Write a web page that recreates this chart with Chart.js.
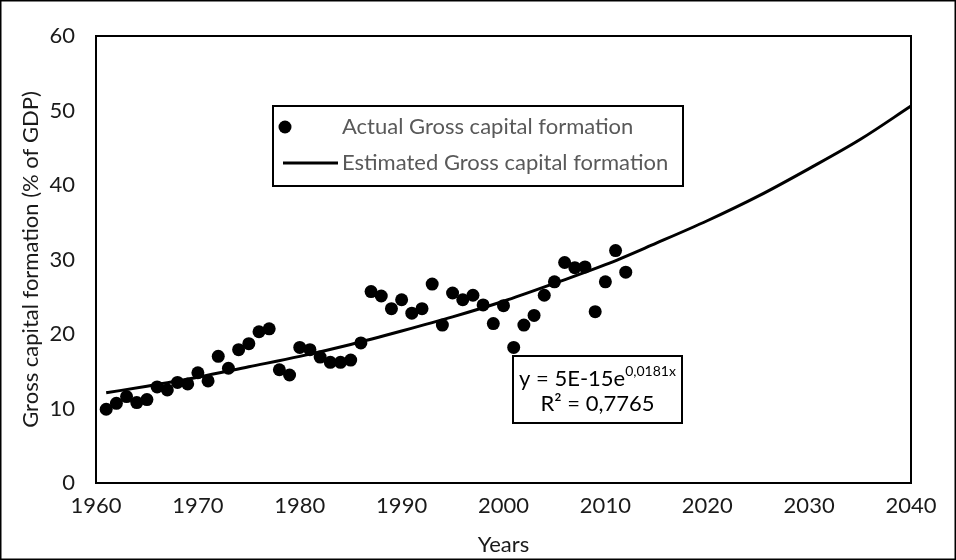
<!DOCTYPE html>
<html>
<head>
<meta charset="utf-8">
<script src="https://cdn.jsdelivr.net/npm/chart.js@4.4.1/dist/chart.umd.min.js"></script>
<style>
html, body { margin: 0; padding: 0; background: #fff; }
#wrap { width: 956px; height: 560px; position: relative; }
</style>
</head>
<body>
<div id="wrap"><canvas id="grafico"></canvas></div>
<script>
var years = [1961,1962,1963,1964,1965,1966,1967,1968,1969,1970,
    1971,1972,1973,1974,1975,1976,1977,1978,1979,1980,
    1981,1982,1983,1984,1985,1986,1987,1988,1989,1990,
    1991,1992,1993,1994,1995,1996,1997,1998,1999,2000,
    2001,2002,2003,2004,2005,2006,2007,2008,2009,2010,
    2011,2012];
var actual = [9.9,10.7,11.6,10.8,11.2,12.9,12.5,13.5,13.3,14.8,
    13.7,17.0,15.4,17.9,18.7,20.3,20.7,15.2,14.5,18.2,
    17.9,16.9,16.2,16.2,16.5,18.8,25.7,25.1,23.4,24.6,
    22.8,23.4,26.7,21.2,25.5,24.6,25.2,23.9,21.4,23.8,
    18.2,21.2,22.5,25.2,27.0,29.6,28.9,29.0,23.0,27.0,
    31.2,28.3];
var trendYears = [1961,1965,1970,1975,1980,1985,1990,1995,2000,2005,2010,2015,2020,2025,2030,2035,2040];
var estimated = [12.1,13.0,14.2,15.6,17.0,18.6,20.4,22.3,24.4,26.8,29.3,32.2,35.2,38.5,42.2,46.1,50.6];
var xTicks = [1960,1970,1980,1990,2000,2010,2020,2030,2040];
var yTicks = [0,10,20,30,40,50,60];
var seriesNames = ["Actual Gross capital formation", "Estimated Gross capital formation"];
var equation = ["y = 5E-15e", "0,0181x", "R\u00b2 = 0,7765"];

var fuente = "Lato, 'Open Sans', sans-serif";

function puntos(xs, ys) {
    var out = [];
    for (var i = 0; i < xs.length; i++) out.push({x: xs[i], y: ys[i]});
    return out;
}

// plot box, legend box, equation box, outer frame
var cajas = {
    id: 'cajas',
    beforeDatasetsDraw: function (chart) {
        var ctx = chart.ctx, a = chart.chartArea;
        ctx.save();
        ctx.strokeStyle = '#000';
        ctx.lineWidth = 2;
        ctx.strokeRect(a.left, a.top, a.right - a.left, a.bottom - a.top);
        ctx.restore();
    },
    afterDraw: function (chart) {
        var ctx = chart.ctx;
        ctx.save();
        ctx.strokeStyle = '#000';
        ctx.lineWidth = 1.5;
        ctx.strokeRect(0.75, 0.75, 954.5, 558.5);

        // legend
        ctx.fillStyle = '#fff';
        ctx.fillRect(273, 106, 410, 80);
        ctx.lineWidth = 2;
        ctx.strokeRect(273, 106, 410, 80);
        ctx.fillStyle = '#000';
        ctx.beginPath();
        ctx.arc(285, 127, 6.5, 0, Math.PI * 2);
        ctx.fill();
        ctx.lineWidth = 3;
        ctx.beginPath();
        ctx.moveTo(283, 163);
        ctx.lineTo(338, 163);
        ctx.stroke();
        ctx.font = '22px ' + fuente;
        ctx.fillStyle = '#595959';
        ctx.textBaseline = 'middle';
        ctx.textAlign = 'left';
        ctx.fillText(seriesNames[0], 342, 127);
        ctx.fillText(seriesNames[1], 342, 163);

        // equation
        ctx.fillStyle = '#fff';
        ctx.fillRect(513, 356, 169, 67);
        ctx.lineWidth = 2;
        ctx.strokeRect(513, 356, 169, 67);
        ctx.fillStyle = '#000';
        ctx.font = '22px ' + fuente;
        var w1 = ctx.measureText(equation[0]).width;
        ctx.font = '14px ' + fuente;
        var w2 = ctx.measureText(equation[1]).width;
        var x0 = 597.5 - (w1 + w2) / 2;
        ctx.font = '22px ' + fuente;
        ctx.fillText(equation[0], x0, 379);
        ctx.font = '14px ' + fuente;
        ctx.fillText(equation[1], x0 + w1, 371);
        ctx.font = '22px ' + fuente;
        ctx.textAlign = 'center';
        ctx.fillText(equation[2], 597.5, 404);
        ctx.restore();
    }
};

function dibujar() {
    Chart.defaults.font.family = fuente;
    Chart.defaults.font.size = 22;
    Chart.defaults.color = '#1a1a1a';

    var grafico = new Chart(document.getElementById('grafico'), {
        type: 'scatter',
        data: {
            datasets: [
                {
                    label: seriesNames[0],
                    data: puntos(years, actual),
                    pointRadius: 6.5,
                    pointHoverRadius: 6.5,
                    pointBackgroundColor: '#000',
                    pointBorderWidth: 0,
                    showLine: false
                },
                {
                    label: seriesNames[1],
                    data: puntos(trendYears, estimated),
                    showLine: true,
                    borderColor: '#000',
                    borderWidth: 3,
                    pointRadius: 0,
                    cubicInterpolationMode: 'monotone',
                    fill: false
                }
            ]
        },
        options: {
            responsive: true,
            maintainAspectRatio: false,
            animation: false,
            layout: { padding: { top: 36, right: 45, left: 0, bottom: 0 } },
            plugins: {
                legend: { display: false },
                tooltip: { enabled: false }
            },
            scales: {
                x: {
                    type: 'linear',
                    min: xTicks[0],
                    max: xTicks[xTicks.length - 1],
                    afterBuildTicks: function (s) { s.ticks = xTicks.map(function (v) { return {value: v}; }); },
                    afterFit: function (s) { s.height = 77; },
                    grid: { display: false, drawTicks: false },
                    border: { display: false },
                    ticks: {
                        padding: 10,
                        maxRotation: 0,
                        callback: function (v) { return String(v); }
                    },
                    title: {
                        display: true,
                        text: 'Years',
                        padding: { top: 0, bottom: 2 }
                    }
                },
                y: {
                    min: yTicks[0],
                    max: yTicks[yTicks.length - 1],
                    afterBuildTicks: function (s) { s.ticks = yTicks.map(function (v) { return {value: v}; }); },
                    afterFit: function (s) { s.width = 96; },
                    grid: { display: false, drawTicks: false },
                    border: { display: false },
                    ticks: {
                        padding: 21,
                        callback: function (v) { return String(v); }
                    },
                    title: {
                        display: true,
                        text: 'Gross capital formation (% of GDP)',
                        padding: { top: 18, bottom: 0 }
                    }
                }
            }
        },
        plugins: [cajas]
    });
}

if (document.fonts && document.fonts.load) {
    document.fonts.load('22px Lato').then(dibujar, dibujar);
} else {
    dibujar();
}
</script>
</body>
</html>
